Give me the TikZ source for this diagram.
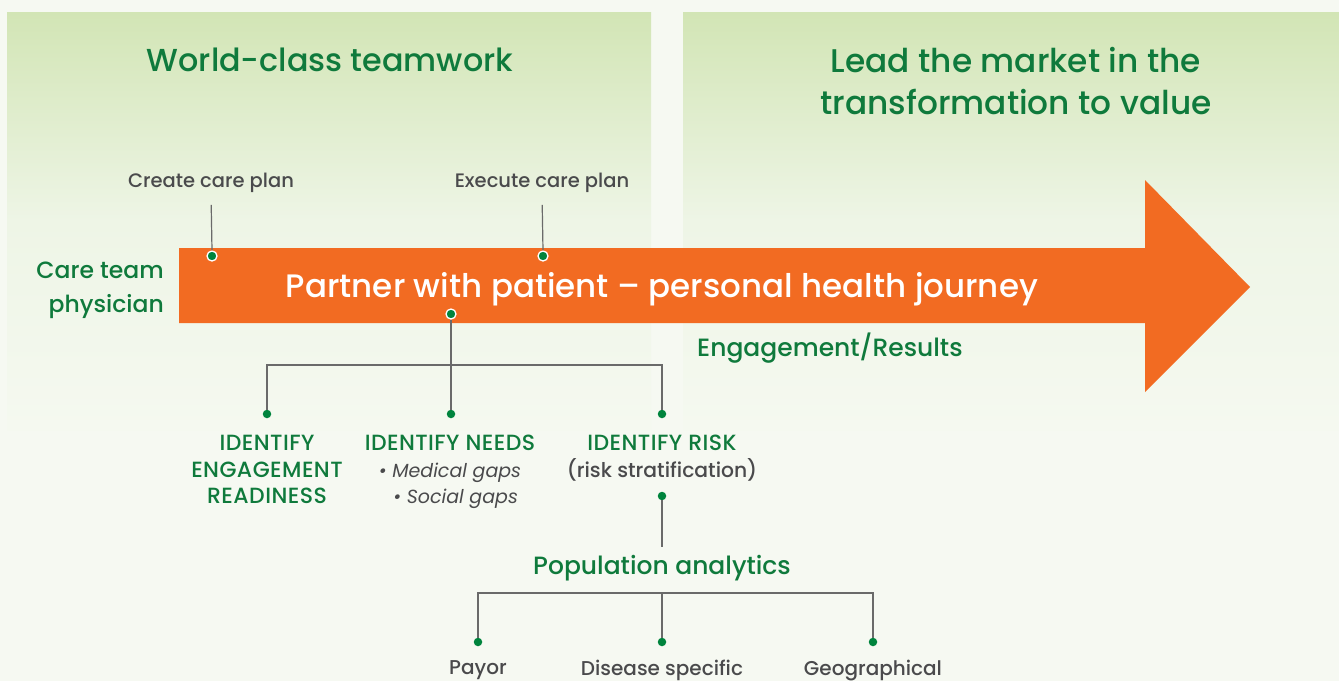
\documentclass[tikz,border=0pt]{standalone}
\usepackage{fontspec}
\setmainfont{Poppins}[UprightFont={* Medium}, ItalicFont={* Italic}, BoldFont={* SemiBold}]
\usetikzlibrary{calc}
\definecolor{bgcol}{HTML}{F6F9F2}
\definecolor{paneltop}{HTML}{D2E5B5}
\definecolor{panelmid}{HTML}{EEF5E6}
\definecolor{panelbot}{HTML}{F5F9F0}
\definecolor{arrowcol}{HTML}{F26B22}
\definecolor{txtgreen}{HTML}{0F7A3C}
\definecolor{dotgreen}{HTML}{00843D}
\definecolor{txtgray}{HTML}{4A4A4C}
\definecolor{linegray}{HTML}{6A6A6A}
% capitals of the branch headings, slightly tracked
\newcommand{\spcaps}[1]{{\addfontfeatures{LetterSpace=2}#1}}
\tikzset{
  heading/.style={text=txtgreen, align=center, inner sep=0pt, font=\fontsize{32.8}{42}\selectfont},
  sidelabel/.style={text=txtgreen, align=right, inner sep=0pt, font=\fontsize{23.5}{34}\selectfont},
  steplabel/.style={text=txtgray, inner sep=0pt, font=\fontsize{19.5}{22}\selectfont},
  branchlabel/.style={text=txtgreen, align=center, inner sep=0pt, font=\fontsize{22}{26.5}\selectfont},
  leaflabel/.style={text=txtgray, inner sep=0pt, font=\fontsize{20}{22}\selectfont},
  bardot/.style={circle, fill=dotgreen, draw=white, line width=1.3pt, inner sep=0pt, minimum size=10pt},
  treedot/.style={circle, fill=dotgreen, inner sep=0pt, minimum size=8.5pt},
  conn/.style={draw=linegray, line width=1.2pt},
  panel/.style={top color=paneltop, bottom color=panelbot, middle color=panelmid, shading angle=0},
}
\begin{document}
\begin{tikzpicture}[x=1pt,y=-1pt]
% page and the two shaded panels fading into it
\fill[bgcol] (0,0) rectangle (1339,681);
\useasboundingbox (0,0) rectangle (1339,681);
\shade[panel] (7,12) rectangle (651,430);
\shade[panel] (683,12) rectangle (1339,430);

% panel headings
\node[heading, font=\fontsize{31.8}{42}\selectfont] (teamwork) at (330,60) {World-class teamwork};
\node[heading] (market) at (1016,81) {Lead the market in the\\transformation to value};

% the big orange arrow
\fill[arrowcol] (179,248) -- (1145,248) -- (1145,180) -- (1250,287)
  -- (1145,392) -- (1145,323) -- (179,323) -- cycle;
\node[text=white, inner sep=0pt, font=\fontsize{32.5}{36}\selectfont] (journey) at (662,289)
  {Partner with patient – personal health journey};

\node[sidelabel, anchor=east] (careteam) at (164,290) {Care team\\physician};
\node[text=txtgreen, inner sep=0pt, anchor=west, font=\fontsize{25}{28}\selectfont] (results) at (697,348) {Engagement/Results};

% care plan steps on the arrow
\node[steplabel] (create) at (211,183) {Create care plan};
\node[steplabel] (execute) at (542,183) {Execute care plan};
\node[bardot] (createdot) at (212,256) {};
\node[bardot] (executedot) at (543,256) {};
\node[bardot] (partnerdot) at (451,314) {};
\draw[conn, shorten <=12pt] (create.south) -- (createdot.north);
\draw[conn, shorten <=12pt] (execute.south) -- (executedot.north);

% first tree: identify
\coordinate (bus) at (451,365);
\node[treedot] (engdot) at (267,414) {};
\node[treedot] (needdot) at (451,414) {};
\node[treedot] (riskdot) at (662,414) {};
\draw[conn] (partnerdot.south) -- (bus);
\draw[conn] (engdot.north) |- (bus) -| (riskdot.north);
\draw[conn] (bus) -- (needdot.north);

\node[branchlabel, anchor=north] (engage) at (267,435)
  {\spcaps{IDENTIFY}\\\spcaps{ENGAGEMENT}\\\spcaps{READINESS}};
\node[branchlabel, anchor=north] (needs) at (450,435)
  {\spcaps{IDENTIFY NEEDS}\\{\color{txtgray}\fontsize{19}{26.5}\selectfont\itshape • Medical gaps}\\{\color{txtgray}\fontsize{19}{26.5}\selectfont\itshape\ \ • Social gaps}};
\node[branchlabel, anchor=north] (risk) at (662,435)
  {\spcaps{IDENTIFY RISK}\\{\color{txtgray}\fontsize{20.3}{26.5}\selectfont (risk stratification)}};

% second tree: population analytics
\node[treedot] (stratdot) at (662,496) {};
\node[text=txtgreen, inner sep=0pt, font=\fontsize{25}{28}\selectfont] (population) at (662,568) {Population analytics};
\draw[conn] (stratdot.south) -- ([yshift=8pt]population.north);

\coordinate (bus2) at (662,593);
\node[treedot] (payordot) at (478,642) {};
\node[treedot] (diseasedot) at (662,642) {};
\node[treedot] (geodot) at (873,642) {};
\draw[conn] (payordot.north) |- (bus2) -| (geodot.north);
\draw[conn] (bus2) -- (diseasedot.north);

\node[leaflabel, anchor=north] (payor) at (478,660) {Payor};
\node[leaflabel, anchor=north] (disease) at (662,660) {Disease specific};
\node[leaflabel, anchor=north] (geo) at (873,660) {Geographical};
\end{tikzpicture}
\end{document}
